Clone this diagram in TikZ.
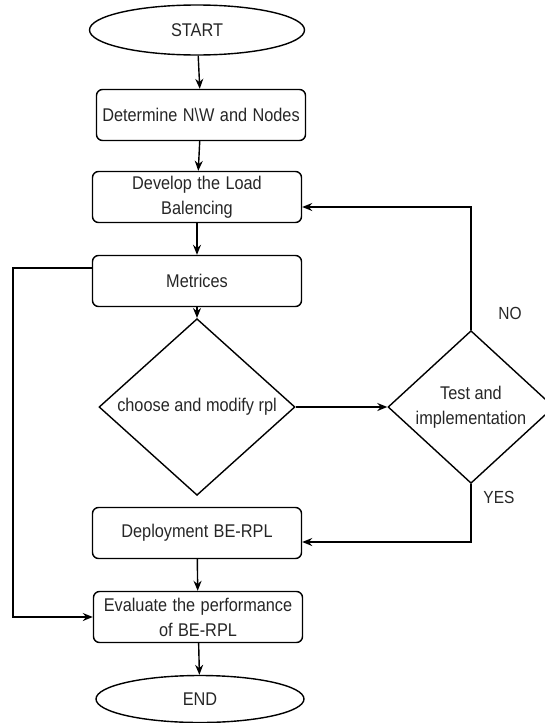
\documentclass[tikz,border=0pt]{standalone}
\usepackage{fontspec}
\setmainfont{Liberation Sans}
\usetikzlibrary{shapes.geometric,arrows.meta}
\newcommand{\tl}[1]{\scalebox{1}[1.13]{#1}}
\begin{document}
\begin{tikzpicture}[x=1pt,y=-1pt,
  every node/.style={font=\fontsize{16.3}{25}\selectfont, text=black!85},
  procbox/.style={draw, line width=1.4pt, rounded corners=6pt, minimum width=209pt, minimum height=51pt, inner sep=1pt, align=center, text width=205pt},
  term/.style={draw, line width=1.4pt, ellipse, inner sep=0pt},
  decide/.style={draw, line width=1.4pt, diamond, inner sep=0pt, align=center},
  conn/.style={line width=1.4pt, -{Stealth[length=10pt,width=8pt]}},
  lbl/.style={font=\fontsize{15.5}{18}\selectfont}]
\clip (0,0) rectangle (545,723);
\useasboundingbox (0,0) rectangle (545,723);
\node[term, minimum width=215pt, minimum height=50pt] (start) at (197,30) {\tl{START}};
\node[procbox] (det) at (201,115) {\tl{Determine N\textbackslash W and Nodes}};
\node[procbox] (dev) at (197,197) {\tl{Develop the Load}\\\tl{Balencing}};
\node[procbox] (met) at (197,281) {\tl{Metrices}};
\node[decide, minimum width=196pt, minimum height=133pt] (d1) at (197,407) {\tl{choose and modify rpl}};
\node[decide, minimum width=166pt, minimum height=133pt] (d2) at (471,407) {\tl{Test and}\\\tl{implementation}};
\node[procbox] (dep) at (197,533) {\tl{Deployment BE-RPL}};
\node[procbox] (eval) at (198,617) {\tl{Evaluate the performance}\\\tl{of BE-RPL}};
\node[term, minimum width=208pt, minimum height=47pt] (end) at (200,699) {\tl{END}};
\node[lbl] (no) at (510,313) {\tl{NO}};
\node[lbl] (yes) at (499,497) {\tl{YES}};
\coordinate (lft) at (13,268);
\draw[conn] (start) -- (det);
\draw[conn] (det) -- (dev);
\draw[conn] (dev) -- (met);
\draw[conn] (met) -- (d1);
\draw[conn] (d1.east) -- (d2.west);
\draw[conn] (d2.north) |- ([yshift=-10pt]dev.east);
\draw[conn] (d2.south) |- ([yshift=-9pt]dep.east);
\draw[conn] (dep) -- (eval);
\draw[conn] ([yshift=13pt]met.west) -- (lft) |- (eval.west);
\draw[conn] (eval) -- (end);
\end{tikzpicture}
\end{document}
